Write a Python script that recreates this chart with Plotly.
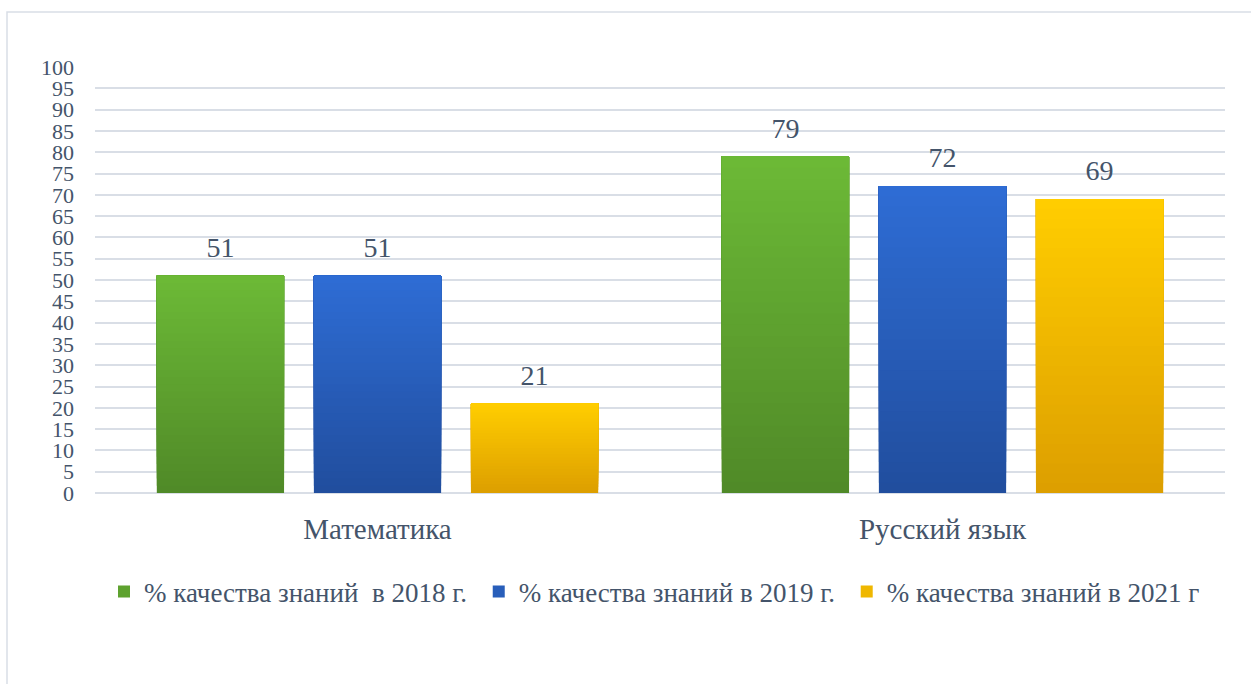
import plotly.graph_objects as go

categories = ["Математика", "Русский язык"]
series_names = [
    "% качества знаний \u00a0в 2018 г.\u00a0",
    "% качества знаний в 2019 г.\u00a0",
    "% качества знаний в 2021 г",
]
values_2018 = [51, 79]
values_2019 = [51, 72]
values_2021 = [21, 69]
y_ticks = list(range(0, 101, 5))

series_values = [values_2018, values_2019, values_2021]
# gradient colours (bottom, top) per series
grad = [
    ((80, 138, 40), (108, 185, 54)),
    ((33, 78, 158), (46, 108, 212)),
    ((221, 159, 0), (255, 205, 0)),
]

TEXT = "#44546A"
GRID = "#D9DEE6"
FONT = "Liberation Serif"
N = 30
LABEL_PAD = 2.3

fig = go.Figure()
for s, (name, vals) in enumerate(zip(series_names, series_values)):
    lo, hi = grad[s]
    for k in range(N):
        t = k / (N - 1)
        col = "rgb({},{},{})".format(*[round(lo[i] + (hi[i] - lo[i]) * t) for i in range(3)])
        bases = [v * k / N for v in vals]
        heights = [v - b for v, b in zip(vals, bases)]
        fig.add_trace(go.Bar(
            x=categories, y=heights, base=bases,
            name=name, legendgroup=name, offsetgroup=str(s),
            marker=dict(color=col, line=dict(width=0)),
            showlegend=(k == N // 2), hoverinfo="skip",
        ))
    # label trace
    fig.add_trace(go.Bar(
        x=categories, y=[v + LABEL_PAD for v in vals], base=[0, 0],
        offsetgroup=str(s), legendgroup=name, showlegend=False,
        marker=dict(color="rgba(0,0,0,0)", line=dict(width=0)),
        text=[str(v) for v in vals], textposition="outside",
        textfont=dict(family=FONT, size=28, color=TEXT),
        cliponaxis=False, hoverinfo="skip",
    ))

W, H = 1251, 684
ml, mr, mt, mb = 95, 26, 67, 191
pw, ph = W - ml - mr, H - mt - mb

fig.update_layout(
    width=W, height=H,
    margin=dict(l=ml, r=mr, t=mt, b=mb, autoexpand=False),
    paper_bgcolor="white", plot_bgcolor="white",
    barmode="group", bargap=0.166, bargroupgap=0.19,
    font=dict(family=FONT, color=TEXT),
    legend=dict(
        orientation="h", x=(104 - ml) / pw, xanchor="left",
        y=(0 - (592 - (mt + ph))) / ph, yanchor="middle",
        font=dict(family=FONT, size=27, color=TEXT),
        traceorder="normal",
    ),
    xaxis=dict(
        tickfont=dict(family=FONT, size=29, color=TEXT),
        showgrid=False, showline=False, ticks="", ticklabelstandoff=16,
    ),
    yaxis=dict(
        range=[0, 100], tickvals=y_ticks, ticktext=[str(v) for v in y_ticks],
        tickfont=dict(family=FONT, size=22, color=TEXT),
        showgrid=True, gridcolor=GRID, gridwidth=1.5,
        zeroline=True, zerolinecolor=GRID, zerolinewidth=1.5,
        showline=False, ticks="", ticklabelstandoff=20,
    ),
    shapes=[dict(
        type="rect", xref="paper", yref="paper",
        x0=(7 - ml) / pw, x1=1.3, y0=-0.6, y1=(mt + ph - 12) / ph,
        line=dict(color=GRID, width=1.5), fillcolor="rgba(0,0,0,0)", layer="below",
    )],
)

fig.write_html(
    "out.html",
    config={"displayModeBar": False},
    post_script="document.body.style.margin='0';document.body.style.overflow='hidden';",
)
